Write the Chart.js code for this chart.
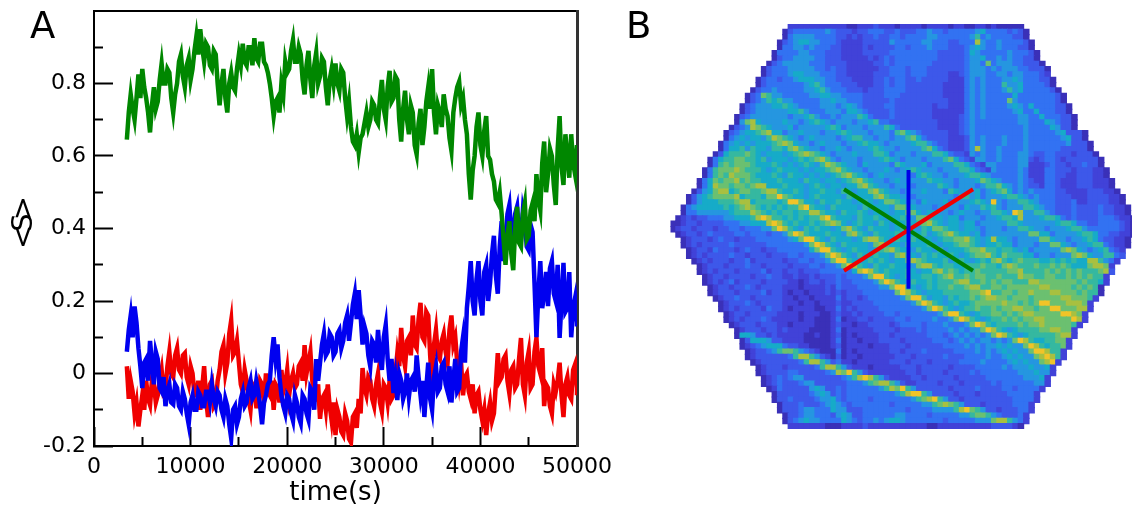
<!DOCTYPE html>
<html>
<head>
<meta charset="utf-8">
<script src="https://cdn.jsdelivr.net/npm/chart.js@4/dist/chart.umd.min.js"></script>
<style>
  html, body { margin: 0; background: #fff; overflow: hidden; }
  #page { position: relative; width: 1132px; height: 511px; }
  canvas { position: absolute; top: 0; }
  #chartA { left: 0; }
  #chartB { left: 620px; filter: blur(0.6px); }
  .tag { position: absolute; top: 4px; font: 37px "DejaVu Sans"; color: #000; }
  #ylabel { position: absolute; left: 6px; top: 216px; width: 32px; text-align: center;
    font: 29px "DejaVu Sans"; letter-spacing: -7px; color: #000; transform: rotate(-90deg); }
</style>
</head>
<body>
<div id="page">
  <canvas id="chartA" width="620" height="511"></canvas>
  <canvas id="chartB" width="512" height="511"></canvas>
  <div class="tag" style="left:30px">A</div>
  <div class="tag" style="left:626px">B</div>
  <div id="ylabel">&lt;S&gt;</div>
</div>
<script>
// panel A, values
const times = [
  3400, 3800, 4200, 4600, 5000, 5400, 5800, 6200, 6600, 7000,
  7400, 7800, 8200, 8600, 9000, 9400, 9800, 10200, 10600, 11000,
  11400, 11800, 12200, 12600, 13000, 13400, 13800, 14200, 14600, 15000,
  15400, 15800, 16200, 16600, 17000, 17400, 17800, 18200, 18600, 19000,
  19400, 19800, 20200, 20600, 21000, 21400, 21800, 22200, 22600, 23000,
  23400, 23800, 24200, 24600, 25000, 25400, 25800, 26200, 26600, 27000,
  27400, 27800, 28200, 28600, 29000, 29400, 29800, 30200, 30600, 31000,
  31400, 31800, 32200, 32600, 33000, 33400, 33800, 34200, 34600, 35000,
  35400, 35800, 36200, 36600, 37000, 37400, 37800, 38200, 38600, 39000,
  39400, 39800, 40200, 40600, 41000, 41400, 41800, 42200, 42600, 43000,
  43400, 43800, 44200, 44600, 45000, 45400, 45800, 46200, 46600, 47000,
  47400, 47800, 48200, 48600, 49000, 49400, 49800, 50000
];
const greenS = [
  .645, .77, .70, .825, .84, .76, .665, .79, .75, .855,
  .80, .83, .72, .80, .88, .79, .87, .84, .93, .95,
  .86, .90, .84, .88, .74, .84, .72, .83, .78, .88,
  .91, .85, .90, .925, .86, .91, .85, .80, .71, .76,
  .80, .86, .84, .92, .86, .88, .77, .89, .76, .885,
  .82, .86, .74, .84, .855, .78, .83, .71, .68, .63,
  .61, .66, .72, .70, .74, .69, .81, .70, .835, .76,
  .81, .64, .78, .66, .72, .605, .73, .68, .79, .84,
  .66, .72, .77, .71, .615, .76, .805, .76, .66, .48,
  .60, .72, .60, .71, .59, .53, .47, .44, .30, .42,
  .285, .46, .35, .47, .38, .47, .55, .45, .64, .55,
  .60, .465, .71, .52, .60, .66, .55, .60
];
// readings taken half way between the times above
const greenMid = [
  .72, .73, .76, .76, .79, .72, .74, .73, .81, .80,
  .84, .76, .77, .86, .82, .85, .81, .89, .88, .90,
  .91, .85, .89, .80, .80, .76, .80, .79, .84, .85,
  .86, .90, .85, .87, .91, .86, .83, .76, .75, .72,
  .77, .83, .89, .86, .90, .81, .85, .81, .85, .80,
  .87, .79, .81, .80, .80, .84, .76, .75, .64, .66,
  .65, .69, .68, .75, .70, .76, .73, .79, .75, .82,
  .70, .73, .70, .74, .63, .69, .63, .75, .73, .72,
  .74, .68, .73, .65, .72, .79, .74, .70, .55, .56,
  .68, .63, .67, .60, .55, .48, .50, .37, .38, .33,
  .40, .36, .44, .37, .45, .42, .48, .58, .50, .62,
  .52, .62, .57, .66, .54, .58, .63
];
const blueS = [
  .06, .16, .185, .07, -.04, .04, .09, -.03, .04, -.05,
  -.09, -.03, -.085, -.04, -.10, -.07, -.14, -.06, -.10, -.06,
  -.09, -.05, -.03, -.09, -.06, -.12, -.09, -.178, -.09, -.12,
  -.05, -.08, -.02, -.06, -.05, -.14, -.06, -.02, .10, .08,
  -.06, -.11, -.07, -.13, -.08, -.137, -.07, -.128, -.05, .04,
  .03, .11, .06, .10, .06, .12, .09, .16, .14, .22,
  .23, .08, .11, .02, .08, .12, .01, .134, -.02, -.054,
  -.073, -.02, -.05, -.064, -.01, .05, -.06, -.12, .03, -.10,
  .02, -.04, .03, -.05, -.08, .04, -.04, .10, .18, .31,
  .16, .31, .16, .30, .25, .38, .22, .42, .36, .465,
  .39, .46, .37, .42, .34, .39, .10, .31, .22, .186,
  .31, .20, .098, .305, .18, .10, .208, .13
];
const blueMid = [
  .12, .10, .14, .02, .03, -.02, .03, .06, -.04, -.01,
  -.05, -.08, -.03, -.09, -.05, -.11, -.08, -.10, -.05, -.09,
  -.05, -.08, -.07, -.05, -.10, -.07, -.14, -.10, -.14, -.07,
  -.09, -.04, -.07, -.02, -.09, -.08, -.03, .05, .04, -.01,
  -.09, -.06, -.11, -.06, -.12, -.06, -.11, -.04, -.10, -.02,
  .08, .05, .11, .05, .11, .07, .14, .09, .19, .15,
  .16, .13, .05, .09, .03, .05, .10, .04, .04, -.01,
  0, -.07, 0, -.02, -.05, -.01, -.02, -.04, -.07, -.01,
  -.05, .02, -.03, .02, -.02, -.05, .06, .03, .24, .20,
  .26, .20, .28, .20, .33, .27, .35, .31, .44, .38,
  .44, .38, .45, .35, .41, .25, .22, .18, .28, .29,
  .22, .30, .20, .17, .28, .18, .14
];
const redS = [
  .02, -.02, -.11, -.146, -.06, -.02, -.087, -.03, -.06, .01,
  -.04, .06, -.01, .07, 0, .056, -.03, 0, -.06, -.10,
  .02, -.12, -.02, -.08, .01, .078, .03, .146, .06, .03,
  -.05, -.02, -.10, -.04, -.09, -.03, 0, -.06, -.10, -.04,
  .01, -.03, -.06, 0, -.03, .03, .078, .03, -.02, -.067,
  -.125, -.06, -.03, -.13, -.17, -.12, -.17, -.13, -.19, -.11,
  -.07, .015, -.06, -.02, -.09, 0, -.105, -.04, -.02, -.06,
  .056, .126, .02, .10, .16, .07, .195, .09, .16, -.03,
  .12, .04, .11, .03, .16, .10, -.02, -.06, 0, -.07,
  -.11, -.05, -.13, -.17, -.08, -.11, .056, -.01, .05, -.055,
  .02, -.03, .098, -.06, .06, -.03, .098, 0, -.09, -.04,
  -.11, -.05, .03, -.12, -.01, -.07, .025, -.06
];
const redMid = [
  -.07, -.05, -.08, -.10, -.10, -.07, -.02, -.08, -.02, -.05,
  .02, 0, .05, .01, .05, -.01, .02, -.06, -.02, -.04,
  -.07, -.03, -.09, -.02, .06, 0, .11, .05, .09, -.03,
  .01, -.07, -.03, -.09, -.02, -.08, -.05, -.02, -.03, -.08,
  -.05, .01, -.02, -.04, .02, -.02, 0, .06, -.06, -.03,
  -.07, -.10, -.09, -.08, -.10, -.16, -.11, -.18, -.12, -.15,
  -.11, -.04, -.01, -.07, -.03, -.08, -.03, -.08, -.07, 0,
  .02, .05, .09, .05, .08, .15, .10, .17, .05, .08,
  .05, .09, .06, .12, .08, .03, .03, -.01, -.05, -.03,
  -.06, -.10, -.10, -.11, -.13, -.03, -.02, .04, -.02, .01,
  -.04, .04, -.03, .03, -.04, .06, .02, .07, -.03, -.09,
  -.03, -.02, -.06, -.03, -.06, .01, -.04
];
const xMajor = [0, 10000, 20000, 30000, 40000, 50000];
const xMinor = [5000, 15000, 25000, 35000, 45000];
const xLabels = ['0', '10000', '20000', '30000', '40000', '50000'];
const yMajor = [-0.2, 0, 0.2, 0.4, 0.6, 0.8];
const yMinor = [-0.1, 0.1, 0.3, 0.5, 0.7, 0.9];
const yLabels = ['-0.2', '0', '0.2', '0.4', '0.6', '0.8'];

// panel B, one digit per cell (0 dark .. 9 bright), '.' is outside the map
const heatRows = [
  '.......... .......... ..11111111 1110011121 1101111011 1101100110 100000.... .......... .......',
  '.......... .......... .023333334 3222122333 2232223343 3233333453 3332320... .......... .......',
  '.......... .......... .034444333 3221212232 2332333344 3333334634 3333220... .......... .......',
  '.......... .......... 0234554433 3211112222 2433333443 3322333843 34333320.. .......... .......',
  '.......... .......... 0334434333 2211112122 2233233343 3322234543 34333220.. .......... .......',
  '.......... .........0 3333443332 2211112222 2333333333 2222235433 333433320. .......... .......',
  '.......... .........0 2334444332 2211111212 3233333333 2222234453 343433220. .......... .......',
  '.......... ........02 3444443332 2221111122 3233333332 2222234437 3444332220 .......... .......',
  '.......... .......023 3344444332 3221111112 2333233322 2222234443 4344433222 0......... .......',
  '.......... .......023 3345544433 3221111122 2333233322 2211234443 3443443332 1......... .......',
  '.......... ......0233 2334555443 3222111122 3233223222 2211134343 3344543332 20........ .......',
  '.......... ......0233 3333345643 3322211122 3233222222 2111134343 3364453333 20........ .......',
  '.......... .....02334 3333344564 3332221222 3333222222 2111134343 3346453333 320....... .......',
  '.......... ....023764 4333334455 4433332222 3332222222 2111134343 3333533333 3320...... .......',
  '.......... ....023465 6443333344 5443332222 2322222222 2211134343 3337433333 3320...... .......',
  '.......... ...0234445 5654333344 4345432222 3322222221 2211134343 3334543533 33220..... .......',
  '.......... ...0234444 4455643334 4435543222 2322222221 1111134343 3333453353 33220..... .......',
  '.......... ..02344444 4434456433 4344465322 2322222221 1111234343 3333344335 333220.... .......',
  '.......... ..04785444 4544345654 3444344563 3222222222 1111234333 3333344333 543220.... .......',
  '.......... .023487654 4453444445 6534443444 6532222222 1111234333 3333334333 354220... .......',
  '.......... 0234556785 5344544434 4565444344 4367543222 2211234333 3333334333 33452220.. .......',
  '.......... 0345455468 7654345444 4345664434 4344675322 2211124343 3343334333 33345220.. .......',
  '.........0 3454545556 7875443454 4434456554 3444456643 2211124343 3343334333 333342220. .......',
  '.........0 3556465546 6578654434 4543444565 4434444675 3211124843 3433334333 333222220. .......',
  '........02 5666765455 5456787654 3444544466 5344434446 6532214343 3433344322 3322212220 .......',
  '.......035 6677665645 5545656786 4344434445 6543444344 4675321443 3433344212 3321222222 0......',
  '.......036 7677765556 5454565468 7654435444 4365444534 4446653214 4333344111 2322122322 0......',
  '......0367 7787666545 6555454556 7865443444 5434565444 3444665321 4333343111 3322212221 10.....',
  '......0367 6877765556 5465545454 5678654345 4444435654 4344456654 3333343111 3322112221 10.....',
  '.....03576 7786766555 6555465545 5456786544 3454444465 5443444576 5433343211 3321112221 110....',
  '.....03587 7677678855 5655545654 5545578654 4344534444 6543444346 6754343221 3321112221 110....',
  '....024578 8567766788 6556545565 5465455786 5443444544 4365444534 5675343433 3322111122 2110...',
  '...0245677 7785666577 9765545655 5546555578 6554434444 4443664534 4456654343 3322211122 22110..',
  '...0245556 6678856666 5699755465 5655456545 7765443544 4534445654 9434466543 3322231122 22110..',
  '..03455555 6567876565 6566896554 6555546555 5477654443 4444354465 6434446654 3322232222 322110.',
  '..03344444 4566687656 5665668865 5465565455 5455775455 4434544344 6654984466 4322232222 322110.',
  '.012122333 4455568986 6565656689 6555465565 4556547765 5455344434 4566584445 6653232222 3332110',
  '0012212222 3334455589 8656556567 8754565546 5455656786 5455455344 4446654444 4456653322 3333210',
  '0122122212 2332333447 9865465655 4578654655 5456554657 7655455434 4434466544 3444566433 3333210',
  '.012212322 2233233323 3479865556 5547865465 5565455645 6786554534 4444444775 5344445665 3322110',
  '..01222123 2212223333 3345799654 6555457886 5465565454 5667786545 8554344447 7544344565 322110.',
  '..01212222 2322222233 3333347986 5465555478 6554655565 4556776545 5655344434 4775434456 632110.',
  '...0122132 2212322122 3333335799 6545655456 7865546554 6455567786 6566545344 4447875434 56321..',
  '...0121222 2322122212 2233233347 9865465565 5478654656 5565456778 6576665534 4344478754 46632..',
  '....012122 2122312222 2122332334 7996545656 5455787655 5645654565 7865676665 5656565588 6431...',
  '.....01222 1222322122 2212223323 3479865465 5655547886 5665566676 6578766676 6767655578 871....',
  '.....01212 2212222312 2122122233 3333589865 6555654557 8676566766 6667786666 7676767666 782....',
  '......0122 1222212232 2112112122 2323334799 6545655665 6786676776 6766687766 7766767676 61.....',
  '......0121 2312222122 2211012212 2322333347 9865465565 6667886676 7677666887 7777776766 51.....',
  '.......012 2122321222 2111011112 1322233334 4799654565 6676678866 7767777778 8777767676 0......',
  '.......012 2212222312 2101101112 1212223333 3379865455 5666667789 6677677877 7887776766 0......',
  '........01 2232212222 2110110111 1312212333 3334799645 5465667678 8776777677 7778877761 .......',
  '.........0 1222321222 2111011011 1211222233 3333347986 5456556777 7787767679 977788871. .......',
  '.........0 1212222132 2101111001 1312122223 3333333479 8654566766 7677887767 799777881. .......',
  '.......... 0122122222 1111011100 1211212222 3323333333 4799654566 7767678877 77799871.. .......',
  '.......... 0121222321 1111011000 1301122122 2233233334 3347986545 6676767788 77777981.. .......',
  '.......... .012221222 1101111000 1211011222 2123333233 3433347986 5666676778 7777761... .......',
  '.......... ..01222122 1211110000 1301111122 2212223233 3343434479 8654566667 788771.... .......',
  '.......... ..05542212 1111100100 1201011112 2122222233 3234343434 7986545666 667881.... .......',
  '.......... ...0255542 2111100000 1301101112 2221222223 3323434344 3434798655 66771..... .......',
  '.......... ...0123455 5322110000 1201111011 1222122222 2333343434 4545447986 56671..... .......',
  '.......... ....012234 6776432100 0301011111 1221222322 2223333434 3454544799 8661...... .......',
  '.......... ....012222 2236886421 0201101111 1122212222 2322233334 3345454478 9861...... .......',
  '.......... .....01222 2222368864 2311011111 1222122212 2222333343 3334545447 891....... .......',
  '.......... ......0122 2122222368 8642111011 1112221222 2212222333 3343444544 51........ .......',
  '.......... ......0122 2233222223 4879642111 1111221222 2122223233 3333344454 41........ .......',
  '.......... .......012 3234422222 2234689864 2111122122 2221222223 3333334445 1......... .......',
  '.......... .......012 3222344222 2223334678 8642112222 1222122222 3233333344 1......... .......',
  '.......... ........01 3222224542 2323333334 6879642222 2212222322 2233233331 .......... .......',
  '.......... .........0 2222223454 2323333333 3346899642 2221222122 222333331. .......... .......',
  '.......... .........0 2232222344 5323333233 3333346789 6422122222 222233331. .......... .......',
  '.......... .......... 0222322234 5432333333 3233333446 7876422212 22223331.. .......... .......',
  '.......... .......... 0222344333 5442223333 3333233334 4446897642 21222331.. .......... .......',
  '.......... .......... .022344333 2454223333 3344333323 3333446776 4322231... .......... .......',
  '.......... .......... .023454433 3354323343 4554333333 3233333444 7886431... .......... .......',
  '.......... .......... ..11111110 0011112111 1111111100 1111111111 222210.... .......... .......'
];
const heatColors = ['#3a30b8', '#4142d8', '#3d58ea', '#3272f2', '#2596e0',
  '#16abc8', '#35b8a0', '#6bc070', '#a8c040', '#f0c428'];
const crossRed = [{x: 32.43, y: 46.3}, {x: 56.54, y: 31.0}];
const crossGreen = [{x: 32.43, y: 31.0}, {x: 56.54, y: 46.3}];
const crossBlue = [{x: 44.49, y: 27.4}, {x: 44.49, y: 49.7}];

const font = 'DejaVu Sans';
const toPoints = (values, mids) => {
  const points = [];
  values.forEach((v, i) => {
    points.push({x: times[i], y: v});
    if (i < mids.length) points.push({x: times[i] + 200, y: mids[i]});
  });
  return points;
};
const trace = (values, mids, color) => ({
  data: toPoints(values, mids), borderColor: color, borderWidth: 4.5,
  borderJoinStyle: 'miter', pointRadius: 0, tension: 0
});
// the axes must not ask for extra room around the plot for their labels
const noPadding = s => { s.paddingTop = s.paddingRight = s.paddingBottom = s.paddingLeft = 0; };

// one axis with inward tick marks; size 0 keeps the extra ones out of the layout
const tickAxis = (axis, position, ticks, length, labels) => ({
  axis: axis, type: 'linear', position: position,
  min: axis === 'x' ? 0 : -0.2, max: axis === 'x' ? 50000 : 1,
  weight: labels ? 0 : -1,
  afterBuildTicks: s => { s.ticks = ticks.map(v => ({value: v})); },
  grid: {drawOnChartArea: false, tickLength: -length, tickWidth: 2, tickColor: '#000'},
  border: {display: !!labels, color: '#000', width: 2},
  ticks: labels ? {
    autoSkip: false, maxRotation: 0, color: '#000', font: {family: font, size: 22},
    padding: axis === 'x' ? 27 : 27,
    callback: (v, i) => labels[i]
  } : {display: false},
  afterFit: s => {
    noPadding(s);
    if (labels) return;
    if (axis === 'x') s.height = 0; else s.width = 0;
  }
});
const frameAxis = (axis, position, color, width) => ({
  axis: axis, type: 'linear', position: position, weight: -1,
  min: axis === 'x' ? 0 : -0.2, max: axis === 'x' ? 50000 : 1,
  grid: {display: false},
  border: {color: color, width: width},
  ticks: {display: false},
  afterFit: s => {
    noPadding(s);
    if (axis === 'x') s.height = 0; else s.width = 0;
  }
});

const xAxis = tickAxis('x', 'bottom', xMajor, 19, xLabels);
xAxis.title = {display: true, text: 'time(s)', color: '#000',
  font: {family: font, size: 26}, padding: {top: 0, bottom: 2}};
xAxis.afterFit = s => { noPadding(s); s.height = 65; };
const yAxis = tickAxis('y', 'left', yMajor, 19, yLabels);
yAxis.afterFit = s => { noPadding(s); s.width = 94; };

new Chart(document.getElementById('chartA'), {
  type: 'line',
  data: {datasets: [
    trace(greenS, greenMid, '#008700'),
    trace(blueS, blueMid, '#0000f0'),
    trace(redS, redMid, '#f00000')
  ]},
  options: {
    responsive: false, animation: false, events: [],
    parsing: false, normalized: true,
    layout: {autoPadding: false, padding: {left: 0, right: 43, top: 11, bottom: 0}},
    plugins: {legend: {display: false}, tooltip: {enabled: false}},
    scales: {
      x: xAxis,
      y: yAxis,
      xMinorTicks: tickAxis('x', 'bottom', xMinor, 9),
      yMinorTicks: tickAxis('y', 'left', yMinor, 9),
      xTop: frameAxis('x', 'top', '#000', 2),
      yRight: frameAxis('y', 'right', '#333', 3)
    }
  }
});

const heatCells = [];
const heatLevels = [];
heatRows.forEach((row, r) => {
  row.replace(/ /g, '').split('').forEach((cell, c) => {
    if (cell === '.') return;
    heatCells.push({x: c + 0.5, y: r + 0.5});
    heatLevels.push(+cell);
  });
});
const arm = (points, color) => ({
  data: points, showLine: true, borderColor: color, borderWidth: 4,
  pointRadius: 0, borderCapStyle: 'butt'
});

new Chart(document.getElementById('chartB'), {
  type: 'scatter',
  data: {datasets: [
    arm(crossBlue, '#0000e6'),
    arm(crossRed, '#f00000'),
    arm(crossGreen, '#008000'),
    {
      data: heatCells, pointStyle: 'rect', pointRadius: 4.6, pointBorderWidth: 0,
      pointBackgroundColor: ctx => heatColors[heatLevels[ctx.dataIndex]]
    }
  ]},
  options: {
    responsive: false, animation: false, events: [],
    layout: {autoPadding: false, padding: {left: 50.5, right: 0, top: 24, bottom: 82}},
    plugins: {legend: {display: false}, tooltip: {enabled: false}},
    scales: {
      x: {type: 'linear', display: false, min: 0, max: 86.26},
      y: {type: 'linear', display: false, min: 0, max: 76, reverse: true}
    }
  }
});
</script>
</body>
</html>
